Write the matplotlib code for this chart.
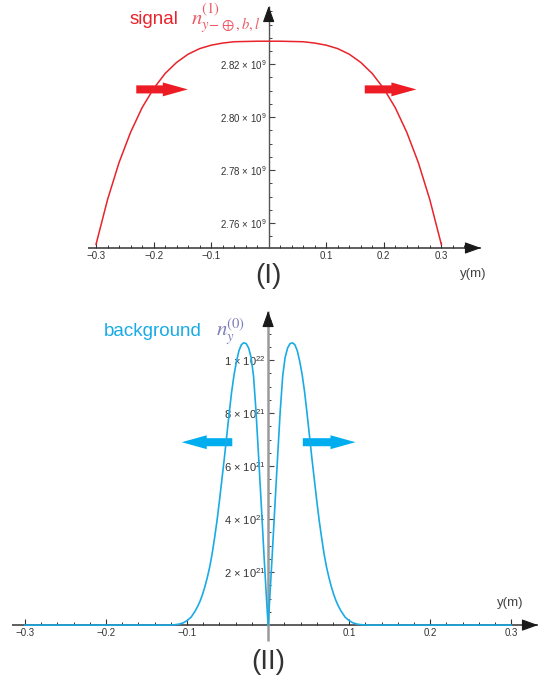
import numpy as np
import matplotlib
matplotlib.use("Agg")
import matplotlib.pyplot as plt
from matplotlib.ticker import FixedLocator

plt.rcParams['font.family'] = ['Liberation Sans', 'DejaVu Sans']
plt.rcParams['mathtext.fontset'] = 'custom'
plt.rcParams['mathtext.rm'] = 'Liberation Sans'
plt.rcParams['mathtext.it'] = 'Liberation Sans:italic'
plt.rcParams['mathtext.bf'] = 'Liberation Sans:bold'

# Panel (I): signal, y en metros, densidad en unidades de 1e9
y_sig = [-0.30, -0.28, -0.26, -0.24, -0.22, -0.20, -0.18, -0.16, -0.14, -0.12,
         -0.10, -0.08, -0.06, -0.04, -0.02, 0.00, 0.02, 0.04, 0.06, 0.08,
         0.10, 0.12, 0.14, 0.16, 0.18, 0.20, 0.22, 0.24, 0.26, 0.28, 0.30]
n_sig = [2.7520, 2.7689, 2.7829, 2.7943, 2.8036, 2.8108, 2.8165, 2.8207, 2.8238, 2.8259,
         2.8272, 2.8280, 2.8285, 2.8286, 2.8287, 2.8287, 2.8287, 2.8286, 2.8285, 2.8280,
         2.8272, 2.8259, 2.8238, 2.8207, 2.8165, 2.8108, 2.8036, 2.7943, 2.7829, 2.7689, 2.7520]

# Panel (II): background, densidad en unidades de 1e21
y_bg = [-0.300, -0.200, -0.130, -0.120, -0.115, -0.110, -0.105, -0.100, -0.095, -0.090,
        -0.087, -0.084, -0.081, -0.078, -0.075, -0.072, -0.069, -0.066, -0.063, -0.060,
        -0.057, -0.054, -0.051, -0.048, -0.045, -0.042, -0.039, -0.036, -0.033, -0.030,
        -0.027, -0.024, -0.021, -0.018, -0.015, -0.012, -0.010, -0.008, -0.005, -0.002,
        0.000,
        0.002, 0.005, 0.008, 0.010, 0.012, 0.015, 0.018, 0.021, 0.024, 0.027,
        0.030, 0.033, 0.036, 0.039, 0.042, 0.045, 0.048, 0.051, 0.054, 0.057,
        0.060, 0.063, 0.066, 0.069, 0.072, 0.075, 0.078, 0.081, 0.084, 0.087,
        0.090, 0.095, 0.100, 0.105, 0.110, 0.115, 0.120, 0.130, 0.200, 0.300]
n_bg = [0.0, 0.0, 0.0, 0.005, 0.015, 0.035, 0.08, 0.17, 0.30, 0.53,
        0.70, 0.90, 1.15, 1.45, 1.80, 2.20, 2.70, 3.30, 3.95, 4.70,
        5.50, 6.30, 7.15, 8.00, 8.80, 9.45, 9.95, 10.35, 10.58, 10.65,
        10.62, 10.45, 10.10, 9.40, 8.10, 6.50, 5.40, 4.30, 2.60, 1.00,
        0.0,
        1.00, 2.60, 4.30, 5.40, 6.50, 8.10, 9.40, 10.10, 10.45, 10.62,
        10.65, 10.58, 10.35, 9.95, 9.45, 8.80, 8.00, 7.15, 6.30, 5.50,
        4.70, 3.95, 3.30, 2.70, 2.20, 1.80, 1.45, 1.15, 0.90, 0.70,
        0.53, 0.30, 0.17, 0.08, 0.035, 0.015, 0.005, 0.0, 0.0, 0.0]

x_major = [-0.3, -0.2, -0.1, 0.1, 0.2, 0.3]
x_labels = ["\u22120.3", "\u22120.2", "\u22120.1", "0.1", "0.2", "0.3"]
sig_ticks = [2.76, 2.78, 2.80, 2.82]
sig_labels = [r"2.76 $\times$ 10$^{9}$", r"2.78 $\times$ 10$^{9}$",
              r"2.80 $\times$ 10$^{9}$", r"2.82 $\times$ 10$^{9}$"]
bg_ticks = [2, 4, 6, 8, 10]
bg_labels = [r"2 $\times$ 10$^{21}$", r"4 $\times$ 10$^{21}$", r"6 $\times$ 10$^{21}$",
             r"8 $\times$ 10$^{21}$", r"1 $\times$ 10$^{22}$"]

ROJO = "#e8232b"
AZUL = "#1aabe6"
W, H = 549, 686


def ejes(ax, x0, x1, y0, y1, ycross, ycolor, ylw, ybottom, ylabsize):
    for s in ax.spines.values():
        s.set_color("none")
    ax.spines["left"].set_position(("data", 0))
    ax.spines["bottom"].set_position(("data", ycross))
    ax.set_xlim(x0, x1)
    ax.set_ylim(y0, y1)
    ax.patch.set_alpha(0)
    # eje x con flecha
    ax.plot([x0, x1], [ycross, ycross], color="#333333", lw=1.1, zorder=2,
            clip_on=False, solid_capstyle="butt")
    ax.annotate("", xy=(x1, ycross), xytext=(-10, 0), textcoords="offset points",
                arrowprops=dict(arrowstyle="-|>,head_length=1.0,head_width=0.36",
                                mutation_scale=10, color="#1a1a1a", lw=0.8,
                                shrinkA=0, shrinkB=0), annotation_clip=False)
    # eje y con flecha
    ax.plot([0, 0], [ybottom, y1], color=ycolor, lw=ylw, zorder=2, clip_on=False,
            solid_capstyle="butt")
    ax.annotate("", xy=(0, y1), xytext=(0, -10), textcoords="offset points",
                arrowprops=dict(arrowstyle="-|>,head_length=1.0,head_width=0.36",
                                mutation_scale=10, color="#1a1a1a", lw=0.8,
                                shrinkA=0, shrinkB=0), annotation_clip=False)
    ax.set_xticks(x_major)
    ax.set_xticklabels(x_labels)
    ax.xaxis.set_minor_locator(FixedLocator(np.arange(-0.30, 0.341, 0.02)))
    ax.tick_params(axis="x", which="major", direction="in", length=4, width=0.8,
                   color="#333333", labelsize=7, labelcolor="#333333", pad=2)
    ax.tick_params(axis="x", which="minor", direction="in", length=2.5, width=0.7,
                   color="#333333")
    ax.tick_params(axis="y", which="major", direction="in", length=4, width=0.8,
                   color="#444444", labelsize=ylabsize, labelcolor="#333333", pad=1.5)
    ax.tick_params(axis="y", which="minor", direction="in", length=2.5, width=0.7,
                   color="#444444")


fig = plt.figure(figsize=(W / 100, H / 100), dpi=100)

# (I) signal
ax1 = fig.add_axes([88 / W, 1 - 248 / H, (481 - 88) / W, (248 - 6) / H])
ejes(ax1, -0.314, 0.369, 2.7506, 2.842, 2.7506, "#555555", 1.0, 2.7506, 7)
ax1.plot(y_sig, n_sig, color=ROJO, lw=1.1, zorder=4)
ax1.set_yticks(sig_ticks)
ax1.set_yticklabels(sig_labels)
ax1.yaxis.set_minor_locator(FixedLocator(np.arange(2.755, 2.8401, 0.005)))

flecha = "simple,head_length=0.9,head_width=0.5,tail_width=0.29"
ax1.annotate("", xy=(-0.1405, 2.8105), xytext=(-0.2301, 2.8105),
             arrowprops=dict(arrowstyle=flecha, mutation_scale=20, color="#ed1c24",
                             lw=0, shrinkA=0, shrinkB=0))
ax1.annotate("", xy=(0.2567, 2.8105), xytext=(0.167, 2.8105),
             arrowprops=dict(arrowstyle=flecha, mutation_scale=20, color="#ed1c24",
                             lw=0, shrinkA=0, shrinkB=0))

# (II) background
ax2 = fig.add_axes([12 / W, 1 - 641 / H, (538 - 12) / W, (641 - 311) / H])
ejes(ax2, -0.316, 0.333, -0.6, 11.85, 0.0, "#9a9a9a", 1.8, -0.6, 8)
ax2.plot(y_bg, n_bg, color=AZUL, lw=1.2, zorder=4, clip_on=False)
ax2.set_yticks(bg_ticks)
ax2.set_yticklabels(bg_labels)
ax2.yaxis.set_minor_locator(FixedLocator(np.arange(0.5, 11.6, 0.5)))

ax2.annotate("", xy=(-0.1066, 6.9), xytext=(-0.0442, 6.9),
             arrowprops=dict(arrowstyle=flecha, mutation_scale=20, color="#00aeef",
                             lw=0, shrinkA=0, shrinkB=0))
ax2.annotate("", xy=(0.1078, 6.9), xytext=(0.0428, 6.9),
             arrowprops=dict(arrowstyle=flecha, mutation_scale=20, color="#00aeef",
                             lw=0, shrinkA=0, shrinkB=0))

# Textos
fig.text(130 / W, 1 - 24 / H, "signal", fontsize=13.5, color=ROJO, va="baseline")
fig.text(191 / W, 1 - 25 / H, r"$\mathbf{\mathit{n}}^{(1)}_{y\!-\!\oplus,b,l}$",
         fontsize=15, color="#ec5a66", va="baseline", math_fontfamily="stix")
fig.text(104 / W, 1 - 336 / H, "background", fontsize=13.5, color=AZUL, va="baseline")
fig.text(216 / W, 1 - 337 / H, r"$\mathbf{\mathit{n}}_y^{(0)}$", fontsize=15,
         color="#7b7bbd", va="baseline", math_fontfamily="stix")

fig.text(268 / W, 1 - 276 / H, "(I)", fontsize=20, color="#333333",
         ha="center", va="center")
fig.text(268 / W, 1 - 662 / H, "(II)", fontsize=20, color="#333333",
         ha="center", va="center")
fig.text(473 / W, 1 - 274 / H, "y(m)", fontsize=9.5, color="#444444",
         ha="center", va="center")
fig.text(510 / W, 1 - 603 / H, "y(m)", fontsize=9.5, color="#444444",
         ha="center", va="center")

fig.savefig("out.png", dpi=100)
